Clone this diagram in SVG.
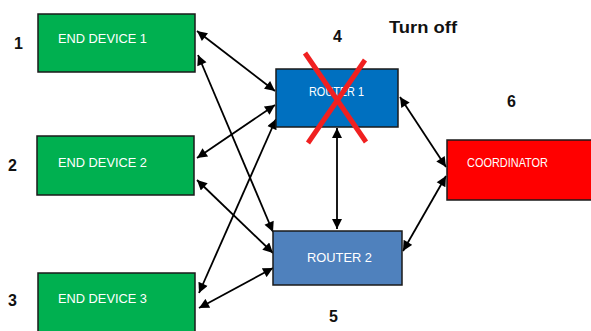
<svg xmlns="http://www.w3.org/2000/svg" width="591" height="331" viewBox="0 0 591 331">
<defs>
<style>
.box{stroke:#1a1a1a;stroke-width:1.5}
.lbl{font-family:"Liberation Sans",Arial,sans-serif;fill:#fff;font-size:13px}
.num{font-family:"Liberation Sans",Arial,sans-serif;fill:#111;font-size:16px;font-weight:bold}
.con{stroke:#000;stroke-width:1.8;fill:none;marker-start:url(#ah);marker-end:url(#ah)}
</style>
<marker id="ah" viewBox="0 0 10 10" refX="10" refY="5" markerWidth="12" markerHeight="10" markerUnits="userSpaceOnUse" orient="auto-start-reverse">
<path d="M0,0 L10,5 L0,10 z" fill="#000"/>
</marker>
</defs>
<rect width="591" height="331" fill="#fff"/>
<g id="connectors">
<line class="con" x1="197" y1="31" x2="275" y2="91"/>
<line class="con" x1="198" y1="55" x2="273" y2="232"/>
<line class="con" x1="197" y1="158" x2="275" y2="105"/>
<line class="con" x1="197" y1="180" x2="273" y2="253"/>
<line class="con" x1="199" y1="293" x2="276" y2="119"/>
<line class="con" x1="199" y1="308" x2="273" y2="268"/>
<line class="con" x1="337" y1="128" x2="337" y2="229"/>
<line class="con" x1="400" y1="97" x2="446" y2="167"/>
<line class="con" x1="446" y1="176" x2="403" y2="251"/>
</g>
<g id="ed1">
<rect class="box" x="38" y="14" width="157" height="58" fill="#00B050"/>
<text class="lbl" x="58" y="43" textLength="89" lengthAdjust="spacingAndGlyphs">END DEVICE 1</text>
</g>
<g id="ed2">
<rect class="box" x="37" y="136" width="157" height="59" fill="#00B050"/>
<text class="lbl" x="58" y="167" textLength="89" lengthAdjust="spacingAndGlyphs">END DEVICE 2</text>
</g>
<g id="ed3">
<rect class="box" x="38" y="273" width="157" height="60" fill="#00B050"/>
<text class="lbl" x="58" y="303" textLength="89" lengthAdjust="spacingAndGlyphs">END DEVICE 3</text>
</g>
<g id="router1">
<rect class="box" x="276" y="69" width="122" height="58" fill="#0070C0"/>
<text class="lbl" x="309" y="96" font-size="12" textLength="55" lengthAdjust="spacingAndGlyphs" fill="#dbe8f5">ROUTER 1</text>
</g>
<g id="router2">
<rect class="box" x="273" y="231" width="129" height="54" fill="#4F81BD"/>
<text class="lbl" x="307" y="262" textLength="65" lengthAdjust="spacingAndGlyphs">ROUTER 2</text>
</g>
<g id="coordinator">
<rect class="box" x="447" y="140" width="146" height="60" fill="#FF0000"/>
<text class="lbl" x="467" y="167" textLength="81" lengthAdjust="spacingAndGlyphs">COORDINATOR</text>
</g>
<g id="cross">
<line x1="305" y1="53" x2="366" y2="142" stroke="#F02020" stroke-width="5"/>
<line x1="365" y1="60" x2="308" y2="143" stroke="#F02020" stroke-width="5"/>
</g>
<g id="labels">
<text class="num" x="14" y="49">1</text>
<text class="num" x="8" y="171">2</text>
<text class="num" x="8" y="306">3</text>
<text class="num" x="333" y="42">4</text>
<text class="num" x="507" y="107">6</text>
<text class="num" x="329" y="322">5</text>
<text class="num" x="389" y="33" textLength="68" lengthAdjust="spacingAndGlyphs">Turn off</text>
</g>
</svg>
